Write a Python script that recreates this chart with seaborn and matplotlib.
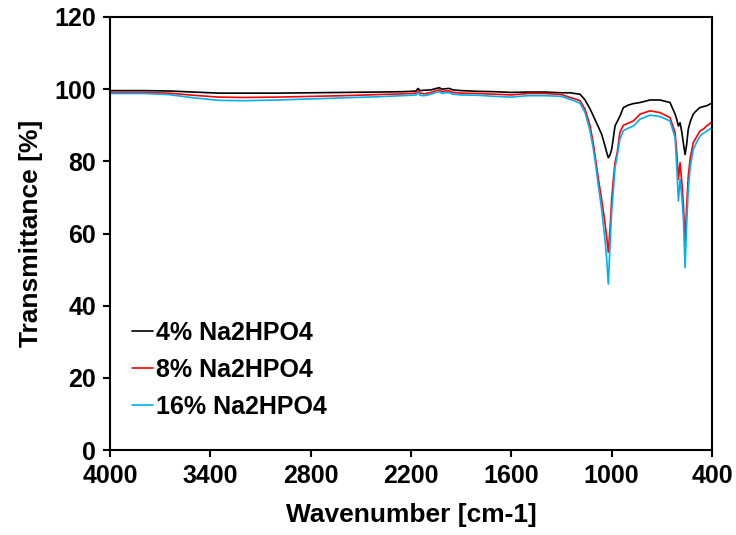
import matplotlib
matplotlib.use("Agg")
import matplotlib.pyplot as plt
import seaborn as sns
import pandas as pd

wavenumber = [4000, 3800, 3650, 3500, 3350, 3200, 3000, 2800, 2600, 2400, 2250, 2200, 2170, 2158, 2145,
              2120, 2080, 2050, 2030, 2015, 2000, 1970, 1950, 1900, 1800, 1700, 1600, 1500, 1400, 1300,
              1250, 1220, 1189, 1159, 1129, 1110, 1099, 1079, 1060, 1040, 1030, 1020, 1010, 1000, 990,
              980, 967, 951, 930, 900, 870, 830, 771, 711, 651, 621, 610, 601, 591, 580, 571, 561, 552,
              542, 530, 512, 490, 472, 450, 432, 415, 400]

t_4pct = [99.6, 99.6, 99.5, 99.2, 98.9, 98.9, 98.9, 99.0, 99.1, 99.2, 99.3, 99.4, 99.5, 100.2, 99.6,
          99.7, 99.8, 100.2, 100.4, 100.0, 100.1, 100.2, 99.8, 99.6, 99.4, 99.3, 99.1, 99.2, 99.2, 99.0,
          99.0, 98.8, 98.6, 97.0, 94.5, 92.6, 91.5, 89.5, 87.5, 84.3, 82.5, 81.0, 81.8, 83.3, 86.5,
          89.8, 91.0, 92.5, 94.9, 95.6, 96.0, 96.3, 97.0, 97.0, 96.3, 93.1, 91.5, 89.8, 90.7, 88.0, 85.0,
          81.9, 84.5, 88.9, 91.0, 93.1, 94.2, 94.9, 95.2, 95.4, 95.8, 96.1]

t_8pct = [99.1, 99.1, 98.9, 98.3, 97.8, 97.7, 97.8, 98.0, 98.2, 98.5, 98.7, 98.8, 98.9, 99.6, 98.9,
          98.7, 99.1, 99.6, 99.8, 99.3, 99.5, 99.5, 99.1, 98.9, 98.8, 98.6, 98.4, 98.8, 98.8, 98.5,
          97.7, 97.3, 96.8, 94.4, 89.8, 85.0, 81.5, 75.0, 69.4, 63.0, 59.0, 54.8, 61.1, 69.5, 75.0,
          79.6, 82.4, 88.0, 90.0, 90.6, 91.2, 93.1, 94.0, 93.5, 92.1, 88.0, 82.0, 75.0, 79.6, 74.0, 68.0,
          58.0, 67.0, 75.9, 81.0, 85.2, 87.0, 88.4, 89.0, 89.8, 90.4, 91.0]

t_16pct = [98.8, 98.8, 98.5, 97.6, 96.9, 96.8, 97.0, 97.3, 97.6, 97.9, 98.2, 98.3, 98.4, 99.1, 98.3,
           98.2, 98.6, 99.1, 99.3, 98.8, 99.0, 99.0, 98.6, 98.4, 98.3, 98.0, 97.8, 98.2, 98.2, 98.0,
           97.2, 96.7, 96.1, 93.5, 88.4, 83.5, 80.1, 73.1, 66.7, 58.3, 53.0, 46.0, 56.5, 66.0, 72.0,
           78.2, 81.5, 86.1, 88.5, 89.2, 89.8, 91.7, 92.8, 92.4, 91.2, 86.6, 78.0, 69.0, 75.0, 70.0, 64.0,
           50.5, 62.0, 72.2, 78.5, 83.3, 85.5, 87.0, 87.8, 88.4, 88.9, 89.3]

series_names = ["4% Na2HPO4", "8% Na2HPO4", "16% Na2HPO4"]
x_ticks = [4000, 3400, 2800, 2200, 1600, 1000, 400]
y_ticks = [0, 20, 40, 60, 80, 100, 120]

frames = []
for name, vals in zip(series_names, [t_4pct, t_8pct, t_16pct]):
    frames.append(pd.DataFrame({"Wavenumber": wavenumber, "T": vals, "Sample": name}))
df = pd.concat(frames, ignore_index=True)

sns.set_style("white")
plt.rcParams['font.family'] = ['Liberation Sans', 'DejaVu Sans']
plt.rcParams['text.color'] = 'black'
plt.rcParams['axes.labelcolor'] = 'black'
plt.rcParams['xtick.color'] = 'black'
plt.rcParams['ytick.color'] = 'black'

fig = plt.figure(figsize=(7.36, 5.35), dpi=100)
ax = fig.add_axes([110 / 736, 85 / 535, 602 / 736, 433 / 535])

palette = {"4% Na2HPO4": "#000000", "8% Na2HPO4": "#FF0000", "16% Na2HPO4": "#00B0F0"}
sns.lineplot(data=df, x="Wavenumber", y="T", hue="Sample", palette=palette,
             hue_order=series_names, linewidth=1.2, ax=ax, estimator=None, sort=True)

ax.set_xlim(4000, 400)
ax.set_ylim(0, 120)
ax.set_xticks(x_ticks)
ax.set_yticks(y_ticks)
ax.set_xticklabels([str(v) for v in x_ticks], fontsize=18, fontweight='bold', color='black')
ax.set_yticklabels([str(v) for v in y_ticks], fontsize=18, fontweight='bold', color='black')
ax.set_xlabel("Wavenumber [cm-1]", fontsize=19, fontweight='bold', labelpad=11, color='black')
ax.set_ylabel("Transmittance [%]", fontsize=19, fontweight='bold', labelpad=8, color='black')

for s in ax.spines.values():
    s.set_color("black")
    s.set_linewidth(1.5)
ax.tick_params(axis='both', direction='out', length=5, width=1.5, color='black', pad=5,
               bottom=True, left=True, top=False, right=False)

leg = ax.legend(loc='upper left', bbox_to_anchor=(0.02, 0.322), frameon=False,
                prop={'family': 'Liberation Sans', 'weight': 'bold', 'size': 18},
                handlelength=0.85, handletextpad=0.1, labelspacing=0.52, borderaxespad=0)
for line in leg.get_lines():
    line.set_linewidth(1.2)
for t in leg.get_texts():
    t.set_color('black')

fig.savefig("out.png", dpi=100)
